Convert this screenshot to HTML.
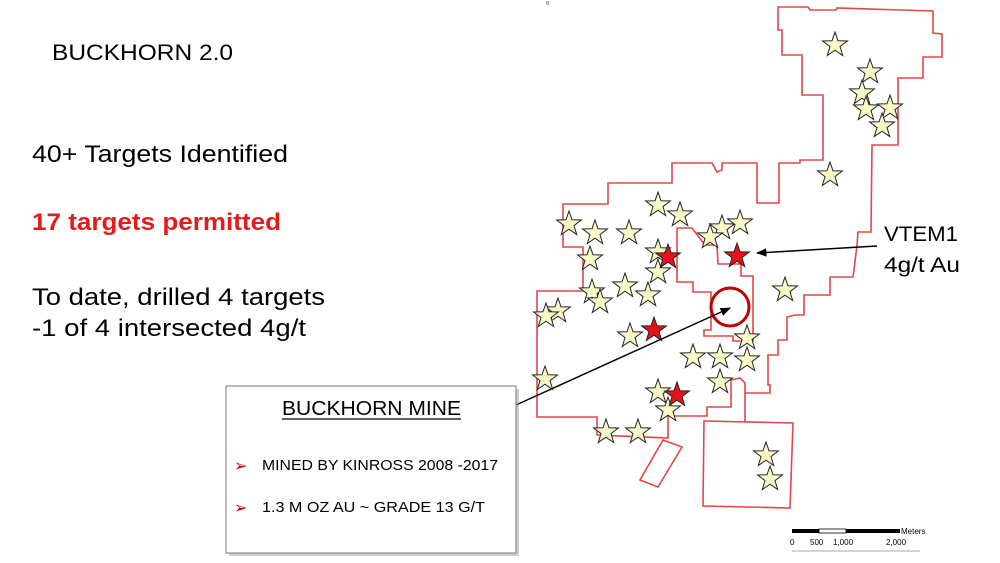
<!DOCTYPE html>
<html><head><meta charset="utf-8"><style>
html,body{margin:0;padding:0;background:#fff;overflow:hidden;}
svg{display:block;font-family:"Liberation Sans",sans-serif;}
</style></head><body>
<svg width="1000" height="563" viewBox="0 0 1000 563" xmlns="http://www.w3.org/2000/svg">
<defs>
<polygon id="s" points="0,-13 3,-4.2 12.4,-4 5,1.6 7.7,10.5 0,5.2 -7.7,10.5 -5,1.6 -12.4,-4 -3,-4.2" stroke="#222" stroke-width="1"/>
<marker id="ah" viewBox="0 0 10 10" refX="9" refY="5" markerWidth="7" markerHeight="7" orient="auto"><path d="M0,1 L10,5 L0,9 Z" fill="#000"/></marker>
</defs>

<text x="52" y="60" font-size="22" textLength="181" lengthAdjust="spacingAndGlyphs">BUCKHORN 2.0</text>
<text x="32" y="162" font-size="24" textLength="256" lengthAdjust="spacingAndGlyphs">40+ Targets Identified</text>
<text x="32" y="230" font-size="24" font-weight="bold" fill="#e21c1c" textLength="249" lengthAdjust="spacingAndGlyphs">17 targets permitted</text>
<text x="32" y="305" font-size="24" textLength="293" lengthAdjust="spacingAndGlyphs">To date, drilled  4 targets</text>
<text x="32" y="336" font-size="24" textLength="274" lengthAdjust="spacingAndGlyphs">-1 of 4 intersected 4g/t</text>

<g fill="none" stroke="#e04848" stroke-width="1.6">
<path d="M778,7 L808,7 L810,10 L836,10 L837,8 L933,11 L933,33 L942,34 L942,57 L923,57 L923,78 L898,78 L898,145 L872,145 L871,232 L858,232 L857,245 L854,270 L853,277 L830,277 L830,295 L804,295 L804,315 L795,315 L787,317 L787,340 L778,340 L778,355 L768,355 L768,385 L770,385 L770,393 L745,393 L745,383 L740,378 L731,380 L731,407 L707,407 L707,416 L668,416 L668,438 L597,435 L597,417 L537,417 L537,291 L583,291 L583,247 L563,247 L563,204 L608,204 L608,183 L672,183 L672,163 L712,163 L717,172 L722,170 L722,163 L757,163 L757,203 L779,203 L779,163 L800,163 L800,160 L823,160 L823,95 L802,95 L802,55 L782,55 L782,30 L778,30 Z"/>
<path d="M745,393 L745,422"/>
<path d="M677,228 L692,228 L705,245 L717,245 L718,264 L741,264 L741,276 L753,276 L753,341 L733,341 L733,336 L704,336 L704,330 L711,330 L711,292 L693,292 L693,282 L677,282 Z"/>
<path d="M704,421 L793,423 L790,508 L703,506 Z"/>
<path d="M663,440 L682,447 L658,487 L640,480 Z"/>
</g>
<circle cx="730" cy="307" r="19" fill="none" stroke="#c00000" stroke-width="3"/>

<g fill="#fbf8c8">
<use href="#s" x="835" y="45"/><use href="#s" x="870" y="72"/><use href="#s" x="862" y="93"/><use href="#s" x="866" y="109"/><use href="#s" x="890" y="108"/><use href="#s" x="882" y="126"/><use href="#s" x="830" y="175"/>
<use href="#s" x="569" y="224"/><use href="#s" x="595" y="233"/><use href="#s" x="629" y="233"/><use href="#s" x="658" y="205"/><use href="#s" x="680" y="215"/><use href="#s" x="722" y="228"/><use href="#s" x="740" y="223"/><use href="#s" x="710" y="237"/><use href="#s" x="658" y="252"/><use href="#s" x="590" y="259"/><use href="#s" x="658" y="272"/><use href="#s" x="625" y="286"/><use href="#s" x="592" y="292"/><use href="#s" x="600" y="302"/><use href="#s" x="648" y="295"/><use href="#s" x="558" y="311"/><use href="#s" x="546" y="316"/><use href="#s" x="785" y="290"/><use href="#s" x="630" y="336"/><use href="#s" x="747" y="338"/><use href="#s" x="693" y="357"/><use href="#s" x="720" y="357"/><use href="#s" x="747" y="360"/><use href="#s" x="720" y="382"/><use href="#s" x="658" y="392"/><use href="#s" x="668" y="410"/><use href="#s" x="545" y="379"/><use href="#s" x="606" y="432"/><use href="#s" x="638" y="432"/><use href="#s" x="766" y="455"/><use href="#s" x="770" y="479"/>
</g>
<g fill="#e8101a">
<use href="#s" x="668" y="257"/><use href="#s" x="737" y="256"/><use href="#s" x="654" y="330"/><use href="#s" x="677" y="395"/>
</g>

<line x1="516" y1="405" x2="730" y2="308" stroke="#000" stroke-width="1.5" marker-end="url(#ah)"/>
<line x1="877" y1="246" x2="757" y2="253" stroke="#000" stroke-width="1.5" marker-end="url(#ah)"/>

<text x="884" y="241" font-size="21" textLength="74" lengthAdjust="spacingAndGlyphs">VTEM1</text>
<text x="884" y="272" font-size="21" textLength="76" lengthAdjust="spacingAndGlyphs">4g/t Au</text>

<rect x="229" y="389" width="290" height="167" fill="#999" opacity="0.5"/>
<rect x="226" y="386" width="290" height="167" fill="#fff" stroke="#777" stroke-width="1"/>
<text x="282" y="415" font-size="20" textLength="179" lengthAdjust="spacingAndGlyphs">BUCKHORN MINE</text>
<line x1="282" y1="419" x2="461" y2="419" stroke="#000" stroke-width="1.2"/>
<text x="234" y="471" font-size="16" fill="#c00000">➢</text>
<text x="262" y="470" font-size="15" textLength="236" lengthAdjust="spacingAndGlyphs">MINED BY KINROSS 2008 -2017</text>
<text x="234" y="513" font-size="16" fill="#c00000">➢</text>
<text x="262" y="512" font-size="15" textLength="223" lengthAdjust="spacingAndGlyphs">1.3 M OZ AU ~ GRADE 13 G/T</text>

<rect x="792" y="529" width="27" height="4" fill="#000"/>
<rect x="819" y="529" width="27" height="4" fill="#fff" stroke="#000" stroke-width="0.8"/>
<rect x="846" y="529" width="54" height="4" fill="#000"/>
<text x="901" y="534" font-size="8">Meters</text>
<text x="790" y="545" font-size="8">0</text>
<text x="810" y="545" font-size="8">500</text>
<text x="833" y="545" font-size="8">1,000</text>
<text x="886" y="545" font-size="8">2,000</text>
<line x1="792" y1="551" x2="920" y2="551" stroke="#aaa" stroke-width="1"/>
<text x="546" y="5" font-size="5" fill="#555">B</text>
</svg>
</body></html>
